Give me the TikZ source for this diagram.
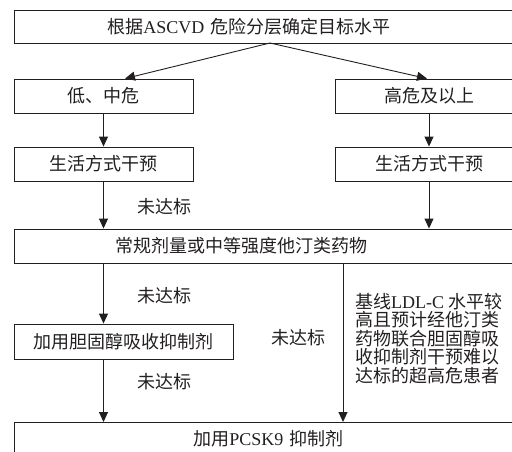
\documentclass[tikz,border=0pt]{standalone}
\usepackage{fontspec}
\setmainfont{Noto Sans CJK SC}
\newfontfamily\lat{Liberation Serif}
\usetikzlibrary{arrows.meta}
\definecolor{ink}{HTML}{231F20}
\tikzset{
  box/.style={draw=ink, line width=0.9pt, minimum height=34pt, inner ysep=0pt, text=ink},
  arr/.style={draw=ink, line width=0.9pt, -{Triangle[length=10pt,width=9pt]}},
  lbl/.style={text=ink, inner sep=0pt},
}
\begin{document}
\begin{tikzpicture}[x=1pt,y=-1pt, font=\fontsize{18}{18.4}\selectfont]
\useasboundingbox (0,0) rectangle (512,451);
\clip (0,0) rectangle (512,451);
% boxes
\node[box, anchor=west, minimum height=33pt, align=left, text width=330pt, inner xsep=93pt] (top) at (14,26.5) {根据{\lat ASCVD} 危险分层确定目标水平};
\node[box, minimum width=179pt] (lm) at (103.5,96) {低、中危};
\node[box, minimum width=188pt] (hi) at (429,96) {高危及以上};
\node[box, minimum width=179pt] (lsl) at (103.5,164) {生活方式干预};
\node[box, minimum width=188pt] (lsr) at (429,164) {生活方式干预};
\node[box, anchor=west, align=left, text width=320pt, inner xsep=101pt] (stat) at (14,246) {常规剂量或中等强度他汀类药物};
\node[box, minimum width=219pt, minimum height=35pt] (chol) at (123.5,341.5) {加用胆固醇吸收抑制剂};
\node[box, anchor=north west, minimum height=32pt, align=left, text width=200pt, inner xsep=179pt] (pcsk) at (14,422) {加用{\lat PCSK9} 抑制剂};
% labels
\node[lbl] (n1) at (164,207) {未达标};
\node[lbl] (n2) at (164,296) {未达标};
\node[lbl] (n3) at (298,338) {未达标};
\node[lbl] (n4) at (164,382) {未达标};
\node[lbl, anchor=north west, align=left] (note) at (355,293) {基线{\lat LDL-C} 水平较\\高且预计经他汀类\\药物联合胆固醇吸\\收抑制剂干预难以\\达标的超高危患者};
% connectors
\coordinate (ts) at (270,43);
\coordinate (mid) at (343,263);
\draw[arr] (ts) -- ([xshift=21.5pt]lm.north);
\draw[arr] (ts) -- ([xshift=-2pt]hi.north);
\draw[arr] (lm) -- (lsl);
\draw[arr] (hi) -- (lsr);
\draw[arr] (lsl.south) -- (lsl.south |- stat.north);
\draw[arr] (lsr.south) -- (lsr.south |- stat.north);
\draw[arr] (lsl.south |- stat.south) -- (lsl.south |- chol.north);
\draw[arr] (lsl.south |- chol.south) -- (lsl.south |- pcsk.north);
\draw[arr] (mid) -- (mid |- pcsk.north);
\end{tikzpicture}
\end{document}
